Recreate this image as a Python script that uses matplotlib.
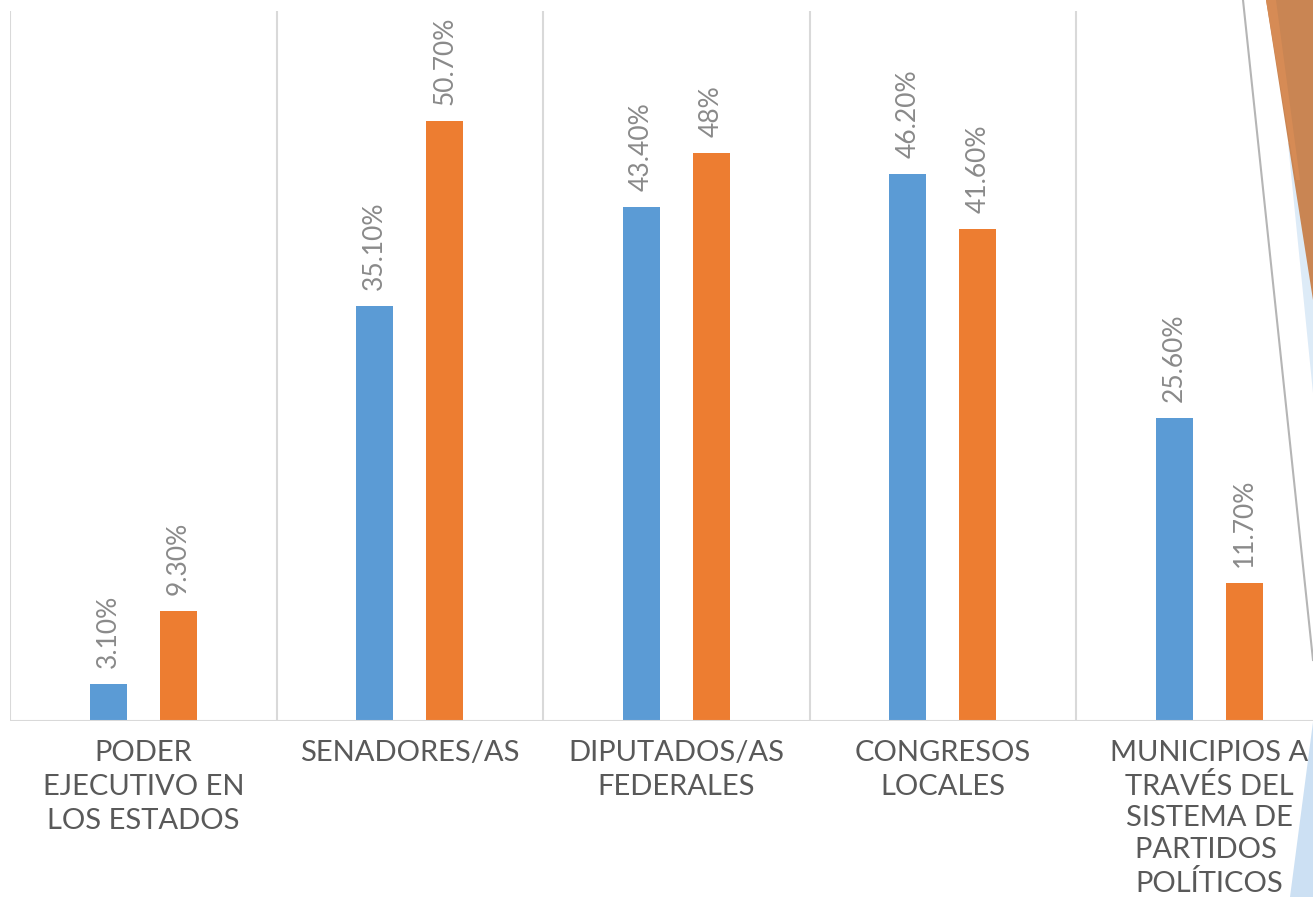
import matplotlib.pyplot as plt
from matplotlib.patches import Polygon
import numpy as np

categories = [
    "PODER\nEJECUTIVO EN\nLOS ESTADOS",
    "SENADORES/AS",
    "DIPUTADOS/AS\nFEDERALES",
    "CONGRESOS\nLOCALES",
    "MUNICIPIOS A\nTRAVÉS DEL\nSISTEMA DE\nPARTIDOS \nPOLÍTICOS",
]
serie_azul = [3.1, 35.1, 43.4, 46.2, 25.6]
serie_naranja = [9.3, 50.7, 48.0, 41.6, 11.7]
etiq_azul = ["3.10%", "35.10%", "43.40%", "46.20%", "25.60%"]
etiq_naranja = ["9.30%", "50.70%", "48%", "41.60%", "11.70%"]

AZUL = "#5B9BD5"
NARANJA = "#ED7D31"
FUENTE = ["Lato", "DejaVu Sans"]

W, H = 1313, 897
fig = plt.figure(figsize=(W / 100, H / 100), dpi=100)


def px(pts):
    # pixel coords (from top-left) -> figure fraction
    return [(x / W, 1 - y / H) for x, y in pts]


# slide decoration on the right edge
deco = [
    ([(1288, 143), (1313, 143), (1313, 393)], "#DDEBF7", 0),
    ([(1266, 0), (1313, 0), (1313, 300)], "#C98553", 1),
    ([(1266, 0), (1276, 0), (1300, 180), (1296, 180)], "#D68B55", 1),
    ([(1313, 722), (1290, 897), (1313, 897)], "#CCE0F3", 0),
]
for pts, col, z in deco:
    fig.patches.append(Polygon(px(pts), closed=True, transform=fig.transFigure,
                               facecolor=col, edgecolor="none", zorder=z))
fig.lines.append(plt.Line2D([1243 / W, 1313 / W], [1, 1 - 660 / H],
                            transform=fig.transFigure, color="#B5B5B5", lw=1.5))

cat_w = 266.5
ax = fig.add_axes([10 / W, (H - 721) / H, 5 * cat_w / W, 710 / H])
ax.patch.set_alpha(0)

x = np.arange(len(categories))
off = 35 / cat_w
bw = 37 / cat_w
b1 = ax.bar(x - off, serie_azul, bw, color=AZUL, zorder=3)
b2 = ax.bar(x + off, serie_naranja, bw, color=NARANJA, zorder=3)

for bars, labels in ((b1, etiq_azul), (b2, etiq_naranja)):
    for rect, lab in zip(bars, labels):
        ax.annotate(lab,
                    (rect.get_x() + rect.get_width() / 2, rect.get_height()),
                    xytext=(0, 11.5), textcoords="offset points",
                    rotation=90, ha="center", va="bottom",
                    fontsize=19, color="#8A8A8A", family=FUENTE)

for xv in np.arange(-0.5, len(categories), 1.0):
    ax.axvline(xv, color="#D9D9D9", lw=1.5, zorder=1)
ax.axhline(0, color="#D9D9D9", lw=1.5, zorder=4)

ax.set_xlim(-0.5, len(categories) - 0.5)
ax.set_ylim(0, 60)
ax.set_yticks([])
ax.set_xticks(x)
ticks = ax.set_xticklabels(categories, fontsize=21, color="#595959",
                           family=FUENTE, linespacing=1.38)
# the five-line label is packed a bit tighter so it fits the slide
ticks[-1].set_linespacing(1.28)
ax.tick_params(axis="x", length=0, pad=14)
for s in ax.spines.values():
    s.set_visible(False)

fig.savefig("out.png", dpi=100)
